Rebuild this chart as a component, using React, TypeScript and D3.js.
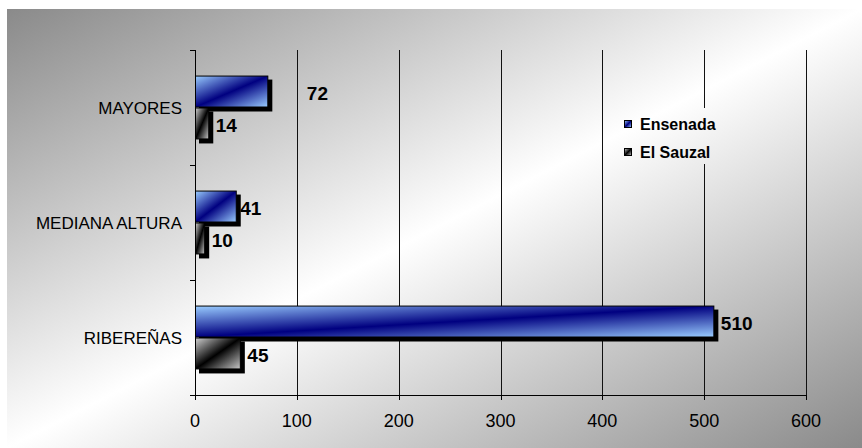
import React from "react";
import * as d3 from "d3";

// Data
const categories = ["MAYORES", "MEDIANA ALTURA", "RIBEREÑAS"];
const seriesNames = ["Ensenada", "El Sauzal"];
const ensenada = [72, 41, 510];
const elSauzal = [14, 10, 45];
const xTicks = [0, 100, 200, 300, 400, 500, 600];

const W = 862;
const H = 448;
const FONT = "'Liberation Sans', Arial, Helvetica, sans-serif";

// Hand-placed value labels: extra horizontal shift per "category|series"
const labelShift: Record<string, number> = {
  "MAYORES|Ensenada": 32,
  "MEDIANA ALTURA|Ensenada": -3,
};

export default function App() {
  const area = { x: 7, y: 9, w: W - 7, h: H - 9 };
  const plot = { left: 195, right: 806, top: 50, bottom: 395 };

  const x = d3.scaleLinear().domain([0, 600]).range([plot.left, plot.right]);
  const y = d3.scaleBand<string>().domain(categories).range([plot.top, plot.bottom]);
  const inner = d3
    .scaleBand<string>()
    .domain(seriesNames)
    .range([0, y.bandwidth()])
    .paddingInner(0)
    .paddingOuter(0.8);

  const values = [ensenada, elSauzal];
  const fills = ["url(#gBlue)", "url(#gGray)"];

  // Background: diagonal grey -> white -> grey, expressed in user space
  const gx = 1 / (2 * area.w);
  const gy = 1 / (2 * area.h);
  const g2 = gx * gx + gy * gy;
  const bg = { x1: area.x, y1: area.y, x2: area.x + gx / g2, y2: area.y + gy / g2 };

  const shadow = 4;

  return (
    <svg
      width={W}
      height={H}
      style={{ position: "fixed", left: 0, top: 0, display: "block" }}
      fontFamily={FONT}
    >
      <defs>
        <linearGradient id="gBg" gradientUnits="userSpaceOnUse" x1={bg.x1} y1={bg.y1} x2={bg.x2} y2={bg.y2}>
          <stop offset="0" stopColor="#8a8a8a" />
          <stop offset="0.5" stopColor="#ffffff" />
          <stop offset="1" stopColor="#8a8a8a" />
        </linearGradient>
        <linearGradient id="gBlue" x1="0" y1="0" x2="1" y2="1">
          <stop offset="0" stopColor="#99ccff" />
          <stop offset="0.5" stopColor="#000080" />
          <stop offset="1" stopColor="#99ccff" />
        </linearGradient>
        <linearGradient id="gGray" x1="0" y1="0" x2="1" y2="1">
          <stop offset="0" stopColor="#d0d0d0" />
          <stop offset="0.5" stopColor="#000000" />
          <stop offset="1" stopColor="#c8c8c8" />
        </linearGradient>
      </defs>

      <rect x={0} y={0} width={W} height={H} fill="#ffffff" />
      <rect x={area.x} y={area.y} width={area.w} height={area.h} fill="url(#gBg)" />

      {/* vertical gridlines */}
      {xTicks.slice(1).map((t) => (
        <line
          key={"g" + t}
          x1={Math.round(x(t)) + 0.5}
          x2={Math.round(x(t)) + 0.5}
          y1={plot.top}
          y2={plot.bottom}
          stroke="#111"
          strokeWidth={1}
        />
      ))}

      {/* legend (opaque box over the gridlines) */}
      <g>
        <rect x={612} y={108} width={150} height={56} fill="url(#gBg)" />
        {seriesNames.map((s, i) => (
          <g key={s}>
            <rect
              x={624.5}
              y={120.5 + i * 28}
              width={7}
              height={7}
              fill={fills[i]}
              stroke="#000"
              strokeWidth={1}
            />
            <text x={640} y={129.5 + i * 28} fontSize={16} fontWeight="bold" fill="#000">
              {s}
            </text>
          </g>
        ))}
      </g>

      {/* bars with drop shadows */}
      {categories.map((c, ci) => (
        <g key={c}>
          {seriesNames.map((s, si) => {
            const v = values[si][ci];
            const by = (y(c) as number) + (inner(s) as number);
            const bh = inner.bandwidth();
            const bx = x(0);
            const bw = x(v) - x(0);
            return (
              <g key={s}>
                <rect x={bx + shadow} y={by + shadow} width={bw} height={bh} fill="#000" />
                <rect
                  x={bx + 0.5}
                  y={by + 0.5}
                  width={bw - 1}
                  height={bh - 1}
                  fill={fills[si]}
                  stroke="#000"
                  strokeWidth={1}
                />
              </g>
            );
          })}
        </g>
      ))}

      {/* value labels */}
      {categories.map((c, ci) =>
        seriesNames.map((s, si) => {
          const v = values[si][ci];
          const cy = (y(c) as number) + (inner(s) as number) + inner.bandwidth() / 2;
          const dx = 6.5 + (labelShift[c + "|" + s] || 0);
          return (
            <text
              key={c + s}
              x={x(v) + dx}
              y={cy + 8.5}
              fontSize={19}
              fontWeight="bold"
              fill="#000"
            >
              {v}
            </text>
          );
        })
      )}

      {/* axes */}
      <line x1={plot.left + 0.5} x2={plot.left + 0.5} y1={plot.top} y2={plot.bottom + 0.5} stroke="#000" />
      <line x1={plot.left} x2={plot.right + 1} y1={plot.bottom + 0.5} y2={plot.bottom + 0.5} stroke="#000" />
      {[...categories.map((c) => y(c) as number), plot.bottom].map((ty, i) => (
        <line key={"yt" + i} x1={plot.left - 5} x2={plot.left} y1={ty + 0.5} y2={ty + 0.5} stroke="#000" />
      ))}
      {xTicks.map((t) => (
        <line
          key={"xt" + t}
          x1={Math.round(x(t)) + 0.5}
          x2={Math.round(x(t)) + 0.5}
          y1={plot.bottom}
          y2={plot.bottom + 5}
          stroke="#000"
        />
      ))}

      {/* tick labels */}
      {xTicks.map((t) => (
        <text key={"xl" + t} x={x(t)} y={427} fontSize={18} textAnchor="middle" fill="#000">
          {t}
        </text>
      ))}
      {categories.map((c) => (
        <text
          key={"yl" + c}
          x={182}
          y={(y(c) as number) + y.bandwidth() / 2 + 6}
          fontSize={17}
          textAnchor="end"
          fill="#000"
        >
          {c}
        </text>
      ))}
    </svg>
  );
}
